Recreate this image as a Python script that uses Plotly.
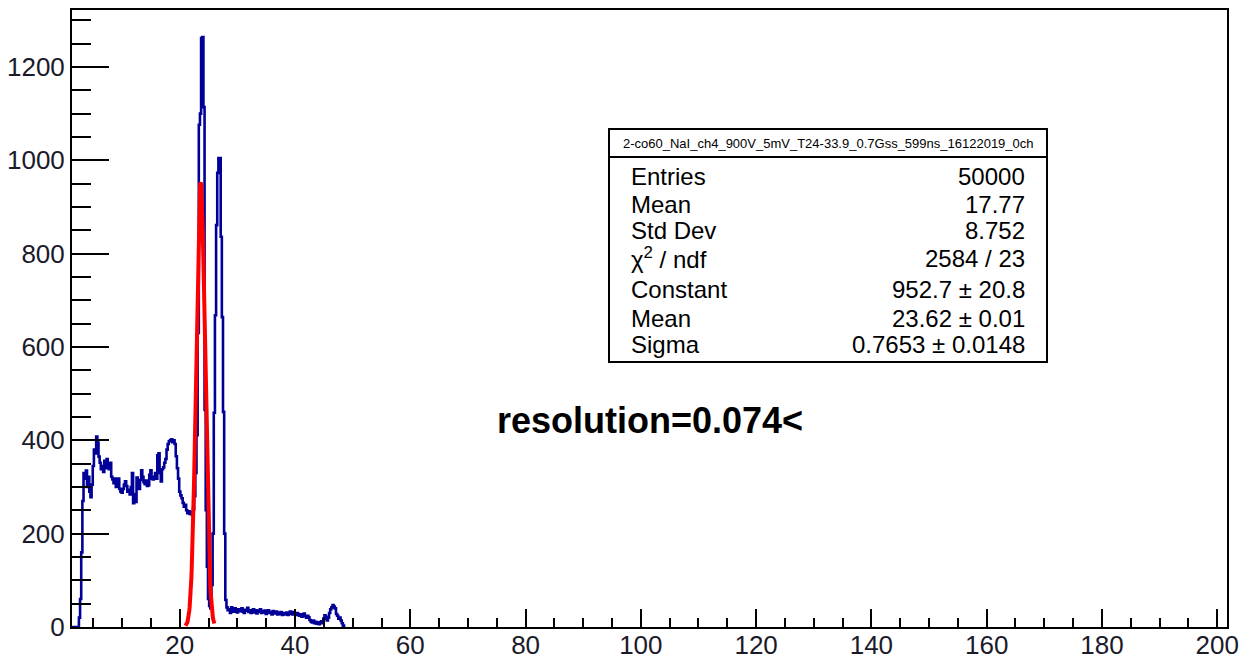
import numpy as np
import plotly.graph_objects as go

# page body has an 8px default margin; figure sized/placed to compensate
OFF = 8
W, H = 1234, 654
L, R, T, B = 64, 15, 2, 35
PW, PH = W - L - R, H - T - B

# ---------------- data ----------------
bin_start = 1.3
bin_width = 0.2
counts = [
    0, 0, 0, 0, 0, 0,
    20, 60, 160, 270, 330, 318, 335, 300, 322, 290, 278, 305,
    345, 380, 372, 408, 395, 365, 352, 338, 345, 332, 356, 340,
    360, 348, 338, 352, 322, 316, 308, 318, 300, 310, 318, 296,
    290, 288, 296, 305, 312, 302, 290, 294, 284, 300, 330, 265,
    285, 268, 320, 300, 296, 315, 336, 322, 310, 306, 314, 302,
    304, 326, 336, 318, 316, 322, 330, 318, 368, 372, 330, 312,
    338, 342, 352, 360, 380, 392, 398, 400, 402, 396, 400, 392,
    366, 340, 318, 290, 282, 276, 266, 258, 262, 250, 244, 248,
    242, 246, 240, 252, 280, 330, 411, 630, 1076, 1100, 1262, 1264,
    1114, 465, 250, 129, 60, 45, 40, 90, 200, 459, 668, 861,
    973, 1005, 1005, 836, 664, 461, 200, 58, 42, 36,
    38, 30, 42, 35, 33, 40, 36, 31, 38, 34,
    36, 40, 33, 30, 37, 35, 41, 32, 36, 30,
    34, 38, 31, 36, 29, 35, 33, 38, 30, 34,
    31, 35, 28, 33, 36, 30, 32, 27, 34, 31,
    29, 33, 27, 31, 28, 32, 26, 30, 27, 29,
    31, 26, 28, 33, 30, 27, 32, 29, 26, 30,
    28, 24, 27, 22, 25, 29, 23, 20, 24, 21,
    15, 12, 10, 14, 8, 11, 7, 10, 6, 9,
    12, 8, 18, 25, 22, 14, 20, 30, 38, 42,
    47, 44, 40, 28, 24, 18, 20, 14, 8, 3, 0,
]

# Gaussian fit parameters (from stats box)
fit_constant = 952.7
fit_mean = 23.62
fit_sigma = 0.7653
fit_range = [21.0, 26.0]

stats_title = "2-co60_NaI_ch4_900V_5mV_T24-33.9_0.7Gss_599ns_16122019_0ch"
stats_labels = ["Entries", "Mean", "Std Dev", "χ<sup>2</sup> / ndf", "Constant", "Mean", "Sigma"]
stats_values = ["50000", "17.77", "8.752", "2584 / 23", "952.7 ± 20.8", "23.62 ± 0.01", "0.7653 ± 0.0148"]
resolution_text = "resolution=0.074<"

x_range = [1.3, 201.7]
y_range = [0, 1322]

# ---------------- build traces ----------------
edges = bin_start + bin_width * np.arange(len(counts) + 1)
hx = list(edges[:-1]) + [edges[-1]]
hy = list(counts) + [counts[-1]]

fx = np.linspace(fit_range[0], fit_range[1], 100)
fy = fit_constant * np.exp(-0.5 * ((fx - fit_mean) / fit_sigma) ** 2)

fig = go.Figure()
fig.add_trace(go.Scatter(x=hx, y=hy, mode="lines", line=dict(shape="hv", color="#000099", width=2.6),
                         hoverinfo="skip"))
fig.add_trace(go.Scatter(x=fx, y=fy, mode="lines", line=dict(color="#ff0000", width=4),
                         hoverinfo="skip"))

# convert screen pixel positions (of the 1250x662 page) to paper coords
def px(xp):
    return (xp - OFF - L) / PW

def py(yp):
    return (OFF + T + PH - yp) / PH

font_main = "Liberation Sans, Arial, sans-serif"

# stats box
bx0, bx1, by0, by1, bsep = 609, 1047, 129, 362, 157
shapes = [
    dict(type="rect", xref="paper", yref="paper", x0=px(bx0), x1=px(bx1), y0=py(by1), y1=py(by0),
         line=dict(color="black", width=2), fillcolor="white", layer="above"),
    dict(type="line", xref="paper", yref="paper", x0=px(bx0), x1=px(bx1), y0=py(bsep), y1=py(bsep),
         line=dict(color="black", width=2), layer="above"),
]
annotations = [
    dict(text=stats_title, x=px((bx0 + bx1) / 2), y=py(143), xref="paper", yref="paper",
         showarrow=False, xanchor="center", yanchor="middle",
         font=dict(family=font_main, size=13, color="black")),
]
row_y = [176, 204, 231, 258, 289, 318, 345]
for lab, val, ry in zip(stats_labels, stats_values, row_y):
    annotations.append(dict(text=lab, x=px(629), y=py(ry), xref="paper", yref="paper", showarrow=False,
                            xanchor="left", yanchor="middle",
                            font=dict(family=font_main, size=24, color="black")))
    annotations.append(dict(text=val, x=px(1027), y=py(ry), xref="paper", yref="paper", showarrow=False,
                            xanchor="right", yanchor="middle",
                            font=dict(family=font_main, size=24, color="black")))
annotations.append(dict(text="<b>" + resolution_text + "</b>", x=px(650), y=py(420), xref="paper", yref="paper",
                        showarrow=False, xanchor="center", yanchor="middle",
                        font=dict(family=font_main, size=36, color="black")))

fig.update_layout(
    width=W, height=H,
    margin=dict(l=L, r=R, t=T, b=B, pad=0),
    paper_bgcolor="white", plot_bgcolor="white",
    showlegend=False,
    shapes=shapes, annotations=annotations,
    font=dict(family=font_main, size=26, color="#1a1a2a"),
)
fig.update_xaxes(range=x_range, automargin=False, showgrid=False, zeroline=False, showline=True, mirror=True,
                 linecolor="black", linewidth=2, ticks="inside", ticklen=18, tickwidth=2, tickcolor="black",
                 tick0=0, dtick=20,
                 minor=dict(ticks="inside", ticklen=9, tickwidth=2, tickcolor="black", dtick=5, tick0=0),
                 tickfont=dict(size=26), ticklabelstandoff=-6)
fig.update_yaxes(range=y_range, automargin=False, showgrid=False, zeroline=False, showline=True, mirror=True,
                 linecolor="black", linewidth=2, ticks="inside", ticklen=37, tickwidth=2, tickcolor="black",
                 tick0=0, dtick=200,
                 minor=dict(ticks="inside", ticklen=19, tickwidth=2, tickcolor="black", dtick=50, tick0=0),
                 tickfont=dict(size=26), ticklabelstandoff=0)

fig.write_html("out.html")
